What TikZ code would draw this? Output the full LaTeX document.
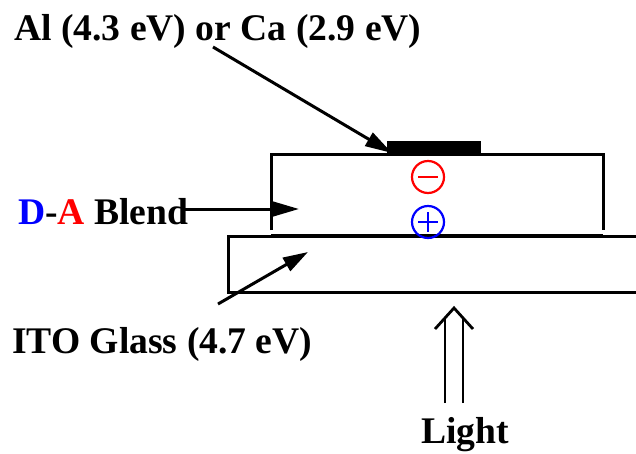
\documentclass[tikz,border=0pt]{standalone}
\usepackage{fontspec}
\setmainfont{Liberation Serif}
\usetikzlibrary{arrows.meta}
\definecolor{myblue}{RGB}{0,0,255}
\definecolor{myred}{RGB}{255,0,0}
\begin{document}
\begin{tikzpicture}[x=1pt,y=-1pt,
  lbl/.style={font=\fontsize{37.6}{40}\selectfont\bfseries, inner sep=0pt, anchor=base west},
  pointer/.style={line width=3pt, -{Triangle[length=27pt,width=15pt]}},
  layer/.style={line width=3pt},
  charge/.style={circle, draw, line width=2.2pt, minimum size=32pt, inner sep=0pt}]
\useasboundingbox (0,0) rectangle (636,453);
% glass substrate
\draw[layer] (645,236) -- (228,236) -- (228,292) -- (645,292);
% ITO top layer
\draw[line width=4pt] (271,236) -- (603,236);
% blend box
\draw[line width=3pt] (271,230) -- (271,154) -- (603,154) -- (603,230);
% electrode
\fill (387,141) rectangle (481,155);
% charges
\node[charge, draw=myred] (minus) at (428,177) {};
\draw[myred, line width=2.2pt] (418,177) -- (438,177);
\node[charge, draw=myblue] (plus) at (428,222) {};
\draw[myblue, line width=2.2pt] (418,222) -- (438,222) (428,212) -- (428,232);
% labels
\node[lbl] (al) at (14,40) {Al (4.3 eV) or Ca (2.9 eV)};
\node[lbl] (da) at (18,224) {\textcolor{myblue}{D}-\textcolor{myred}{A} Blend};
\node[lbl] (ito) at (12,353) {ITO Glass (4.7 eV)};
\node[lbl] (light) at (421,443) {Light};
% arrow targets
\coordinate (alS) at (213,47);
\coordinate (alT) at (392,153);
\coordinate (daS) at (184,209);
\coordinate (daT) at (299,209);
\coordinate (itoS) at (218,304);
\coordinate (itoT) at (308,252);
\draw[pointer] (alS) -- (alT);
\draw[pointer] (daS) -- (daT);
\draw[line width=3pt, -{Triangle[length=25pt,width=15pt]}] (itoS) -- (itoT);
% light double arrow
\coordinate (lapex) at (454,308);
\coordinate (lwl) at (435,329);
\coordinate (lwr) at (473,329);
\draw[line width=2.8pt, line join=miter] (lwl) -- (lapex) -- (lwr);
\draw[line width=2.8pt] (445,403) -- (445,318) (463,403) -- (463,318);
\end{tikzpicture}
\end{document}
